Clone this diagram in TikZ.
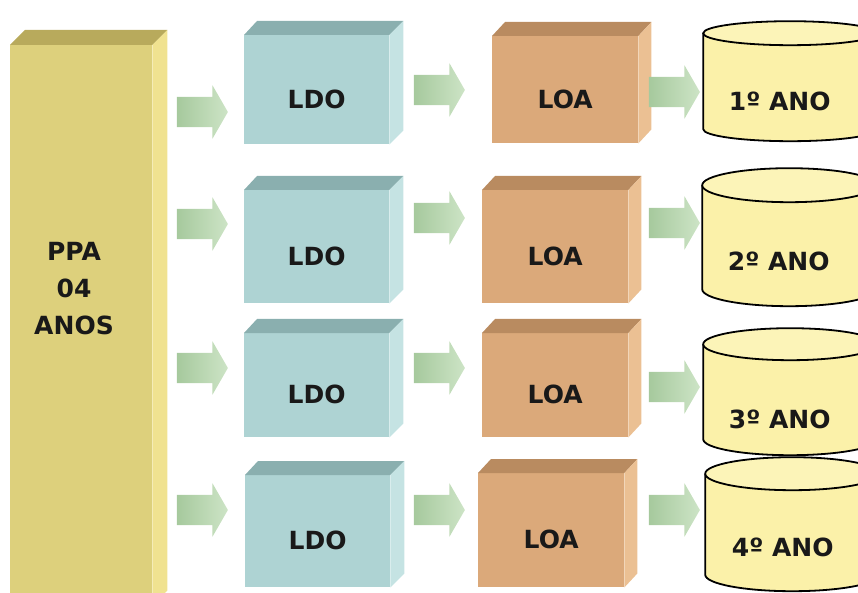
\documentclass[tikz,border=0pt]{standalone}
\usepackage{fontspec}
\newfontfamily\boxfont{DejaVu Sans}
\usetikzlibrary{shapes.arrows, calc}

\definecolor{ppafront}{HTML}{DDD07C}
\definecolor{ppatop}{HTML}{B8AA5C}
\definecolor{ppaside}{HTML}{F0E290}
\definecolor{ldofront}{HTML}{AED3D3}
\definecolor{ldotop}{HTML}{8AAFAF}
\definecolor{ldoside}{HTML}{C5E3E3}
\definecolor{loafront}{HTML}{DBA97A}
\definecolor{loatop}{HTML}{B98B60}
\definecolor{loaside}{HTML}{EBC093}
\definecolor{drumbody}{HTML}{FBF1A9}
\definecolor{drumtop}{HTML}{FCF4B8}
\definecolor{flowbody}{HTML}{A6C99D}
\definecolor{flowhead}{HTML}{CDE4C6}

\begin{document}
\begin{tikzpicture}[
  x=1pt, y=1pt,
  boxtext/.style={font=\boxfont\bfseries\fontsize{25}{37}\selectfont, text=black!90},
  front/.style={boxtext, anchor=north west, inner sep=0pt, text height=37pt, text depth=0pt},
  ppa/.style={front, fill=ppafront, minimum width=142pt},
  ldo/.style={front, fill=ldofront, minimum width=145pt},
  loa/.style={front, fill=loafront, minimum width=146pt},
  drum/.style={boxtext, anchor=north west, inner sep=0pt, minimum width=176pt, text depth=0pt,
    path picture={
      \path (path picture bounding box.north west) ++(1,-1) coordinate (dtl)
            (path picture bounding box.south east) ++(-1,1) coordinate (dbr);
      \fill[drumbody] let \p1=(dtl), \p2=(dbr) in
        (\x1,\y1-#1pt) -- (\x1,\y2+#1pt)
        arc[start angle=180, end angle=360, x radius=(\x2-\x1)/2, y radius=#1pt]
        -- (\x2,\y1-#1pt) -- cycle;
      \draw[line width=1.8pt] let \p1=(dtl), \p2=(dbr) in
        (\x1,\y1-#1pt) -- (\x1,\y2+#1pt)
        arc[start angle=180, end angle=360, x radius=(\x2-\x1)/2, y radius=#1pt]
        -- (\x2,\y1-#1pt);
      \filldraw[line width=1.8pt, fill=drumtop] let \p1=(dtl), \p2=(dbr) in
        ({(\x1+\x2)/2},\y1-#1pt) ellipse[x radius=(\x2-\x1)/2, y radius=#1pt];
    }},
  flow/.style={single arrow, minimum height=51pt, inner xsep=0pt, inner ysep=15pt,
    single arrow head extend=11.5pt, single arrow tip angle=120,
    left color=flowbody, right color=flowhead}
]
\useasboundingbox (0,0) rectangle (858,592);
\clip (0,0) rectangle (858,592);

% plano plurianual
\node[ppa, minimum height=560pt] (ppa) at (10,547) {};
\node[boxtext, align=center] (ppaLabel) at (74,303) {PPA\\04\\ANOS};

% LDO
\node[ldo, minimum height=109pt] (ldo1) at (244,557) {LDO};
\node[ldo, minimum height=113pt] (ldo2) at (244,402) {LDO};
\node[ldo, minimum height=104pt] (ldo3) at (244,259) {LDO};
\node[ldo, minimum height=112pt] (ldo4) at (245,117) {LDO};

% LOA
\node[loa, minimum height=107pt] (loa1) at (492,556) {LOA};
\node[loa, minimum height=113pt] (loa2) at (482,402) {LOA};
\node[loa, minimum height=104pt] (loa3) at (482,259) {LOA};
\node[loa, minimum height=114pt] (loa4) at (478,119) {LOA};

% anos (text pulled left, the drums run off the right edge)
\node[drum=12, minimum height=122pt, text height=59pt] (ano1) at (702,572) {\kern-21pt1º ANO};
\node[drum=17, minimum height=140pt, text height=67pt] (ano2) at (701,425) {\kern-21pt2º ANO};
\node[drum=16, minimum height=129pt, text height=74pt] (ano3) at (702,265) {\kern-21pt3º ANO};
\node[drum=16.5, minimum height=136pt, text height=65pt] (ano4) at (704,136) {\kern-19pt4º ANO};

% faces of the boxes
\fill[ppatop] (ppa.north west) -- ++(15,15) -- ($(ppa.north east)+(15,15)$) -- (ppa.north east) -- cycle;
\fill[ppaside] (ppa.north east) -- ++(15,15) -- ($(ppa.south east)+(15,15)$) -- (ppa.south east) -- cycle;
\foreach \n in {ldo1,ldo2,ldo3,ldo4} {
  \fill[ldotop] (\n.north west) -- ++(13,14) -- ($(\n.north east)+(14,14)$) -- (\n.north east) -- cycle;
  \fill[ldoside] (\n.north east) -- ++(14,14) -- ($(\n.south east)+(14,14)$) -- (\n.south east) -- cycle;
}
\foreach \n in {loa1,loa2,loa3,loa4} {
  \fill[loatop] (\n.north west) -- ++(13,14) -- ($(\n.north east)+(13,14)$) -- (\n.north east) -- cycle;
  \fill[loaside] (\n.north east) -- ++(13,14) -- ($(\n.south east)+(13,14)$) -- (\n.south east) -- cycle;
}

% setas
\node[flow] (ppa2ldo1) at (198,480) {};
\node[flow] (ppa2ldo2) at (198,368) {};
\node[flow] (ppa2ldo3) at (198,224) {};
\node[flow] (ppa2ldo4) at (198,82) {};
\node[flow] (ldo2loa1) at (435,502) {};
\node[flow] (ldo2loa2) at (435,374) {};
\node[flow] (ldo2loa3) at (435,224) {};
\node[flow] (ldo2loa4) at (435,82) {};
\node[flow] (loa2ano1) at (670,500) {};
\node[flow] (loa2ano2) at (670,369) {};
\node[flow] (loa2ano3) at (670,205) {};
\node[flow] (loa2ano4) at (670,82) {};
\end{tikzpicture}
\end{document}
